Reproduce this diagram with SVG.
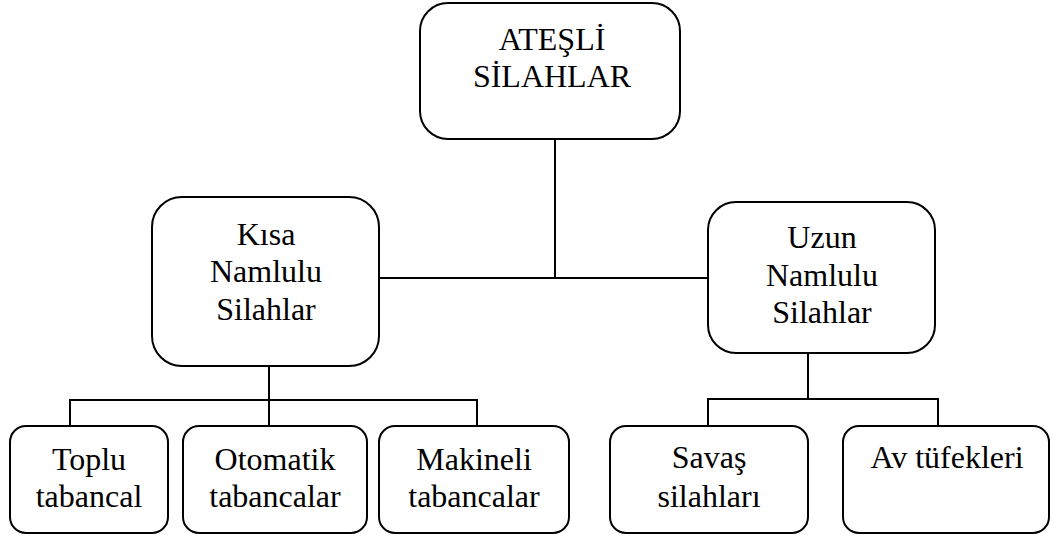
<svg xmlns="http://www.w3.org/2000/svg" width="1051" height="538" viewBox="0 0 1051 538">
<style>
.box{fill:#fff;stroke:#000;stroke-width:2}
.ln{stroke:#000;stroke-width:2;fill:none}
text{font-family:'Liberation Serif','Times New Roman',Tinos,'DejaVu Serif',serif;font-size:32px;fill:#000;text-anchor:middle}
</style>
<rect width="1051" height="538" fill="#fff"/>
<g id="connectors">
<path class="ln" d="M555,139 V278"/>
<path class="ln" d="M379,278 H708"/>
<path class="ln" d="M269,366 V425 M70,425 V400 H477 V425"/>
<path class="ln" d="M808,353 V399 M708,426 V399 H938 V426"/>
</g>
<g id="atesli">
<rect class="box" x="420" y="3" width="260" height="136" rx="28"/>
<text x="552" y="50">ATEŞLİ</text>
<text x="552" y="87">SİLAHLAR</text>
</g>
<g id="kisa">
<rect class="box" x="152" y="197" width="227" height="169" rx="30"/>
<text x="266" y="245">Kısa</text>
<text x="266" y="282">Namlulu</text>
<text x="266" y="320">Silahlar</text>
</g>
<g id="uzun">
<rect class="box" x="708" y="202" width="227" height="151" rx="28"/>
<text x="822" y="248">Uzun</text>
<text x="822" y="286">Namlulu</text>
<text x="822" y="323">Silahlar</text>
</g>
<g id="toplu">
<rect class="box" x="10" y="426" width="158" height="107" rx="16"/>
<text x="89" y="470">Toplu</text>
<text x="89" y="507">tabancal</text>
</g>
<g id="otomatik">
<rect class="box" x="183" y="426" width="184" height="107" rx="16"/>
<text x="275" y="470">Otomatik</text>
<text x="275" y="507">tabancalar</text>
</g>
<g id="makineli">
<rect class="box" x="379" y="426" width="190" height="107" rx="16"/>
<text x="474" y="470">Makineli</text>
<text x="474" y="507">tabancalar</text>
</g>
<g id="savas">
<rect class="box" x="610" y="426" width="198" height="107" rx="16"/>
<text x="709" y="468">Savaş</text>
<text x="709" y="507">silahları</text>
</g>
<g id="av">
<rect class="box" x="843" y="426" width="206" height="107" rx="16"/>
<text x="947" y="468">Av tüfekleri</text>
</g>
</svg>
